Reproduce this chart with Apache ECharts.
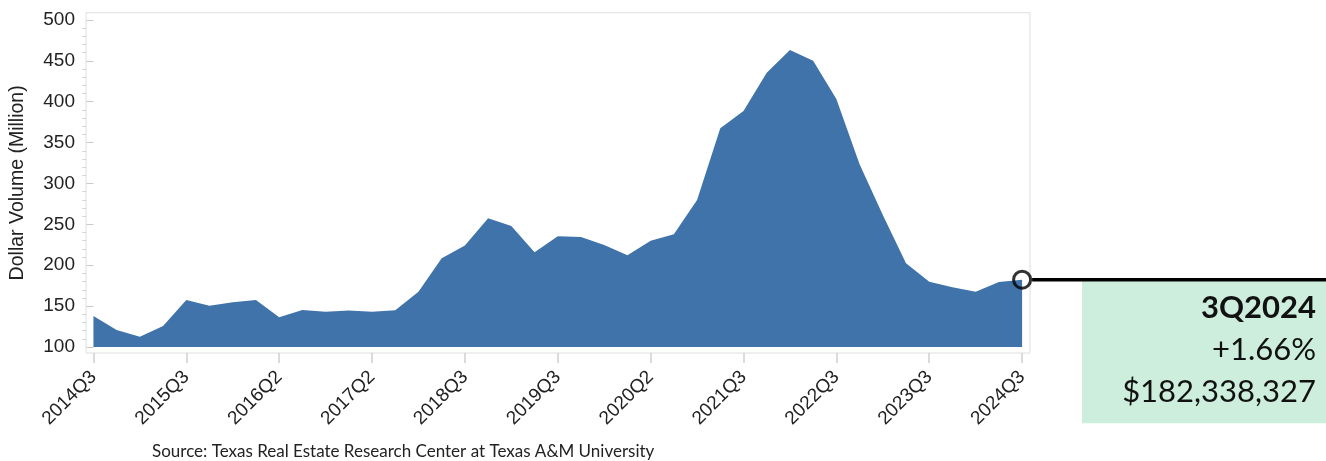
<!DOCTYPE html>
<html>
<head>
<meta charset="utf-8">
<script src="https://cdn.jsdelivr.net/npm/echarts@6/dist/echarts.min.js"></script>
<style>
  html, body { margin: 0; padding: 0; background: #ffffff; }
  #chart { width: 1326px; height: 461px; }
</style>
</head>
<body>
<div id="chart"></div>
<script>
// Quarterly dollar volume (million USD)
const quarters = [
  '2014Q3','2014Q4',
  '2015Q1','2015Q2','2015Q3','2015Q4',
  '2016Q1','2016Q2','2016Q3','2016Q4',
  '2017Q1','2017Q2','2017Q3','2017Q4',
  '2018Q1','2018Q2','2018Q3','2018Q4',
  '2019Q1','2019Q2','2019Q3','2019Q4',
  '2020Q1','2020Q2','2020Q3','2020Q4',
  '2021Q1','2021Q2','2021Q3','2021Q4',
  '2022Q1','2022Q2','2022Q3','2022Q4',
  '2023Q1','2023Q2','2023Q3','2023Q4',
  '2024Q1','2024Q2','2024Q3'
];
const volume = [
  137.9, 120.8,
  112.6, 125.7, 157.5, 150.5,
  154.7, 157.5, 136.5, 145.3,
  143.2, 144.5, 143.2, 144.9,
  167.7, 208.5, 224.0, 257.4,
  248.0, 215.8, 235.4, 234.5,
  224.8, 212.2, 230.0, 237.8,
  279.8, 367.5, 388.7, 435.6,
  463.3, 450.2, 403.4, 323.5,
  261.5, 202.4, 179.9, 173.0,
  167.7, 179.4, 182.34
];
// Labels shown under every fourth quarter
const tickLabels = ['2014Q3','2015Q3','2016Q2','2017Q2','2018Q3','2019Q3','2020Q2','2021Q3','2022Q3','2023Q3','2024Q3'];
const yTicks = [100, 150, 200, 250, 300, 350, 400, 450, 500];
const yMinorTicks = [110,120,130,140,160,170,180,190,210,220,230,240,260,270,280,290,
                     310,320,330,340,360,370,380,390,410,420,430,440,460,470,480,490];
const latestLabel = '3Q2024';
const latestChange = '+1.66%';
const latestAmount = '$182,338,327';
const sourceNote = 'Source: Texas Real Estate Research Center at Texas A&M University';

const AXIS_FONT = '"Liberation Sans", Arial, sans-serif';
const NOTE_FONT = 'Lato, "Open Sans", sans-serif';
const AREA_BLUE = '#4073a9';

const seriesData = volume.map((v, i) => [i, v]);
const lastIdx = volume.length - 1;
const xTicks = tickLabels.map((_, i) => i * 4);

const chart = echarts.init(document.getElementById('chart'), null, { renderer: 'canvas' });

const yBase = {
  type: 'value',
  position: 'left',
  min: 92.66,
  max: 508.9,
  axisLine: { show: false },
  splitLine: { show: false }
};

chart.setOption({
  animation: false,
  grid: {
    left: 84, right: 296, top: 12.7, bottom: 108,
    show: true, borderColor: '#dedede', borderWidth: 1,
    backgroundColor: 'transparent'
  },
  xAxis: {
    type: 'value',
    min: -0.32,
    max: 40.34,
    axisLine: { show: false },
    splitLine: { show: false },
    axisTick: {
      show: true, length: 10, customValues: xTicks,
      lineStyle: { color: '#cfcfcf', width: 1.5 }
    },
    axisLabel: {
      customValues: xTicks,
      rotate: 45,
      margin: 21,
      fontFamily: AXIS_FONT,
      fontSize: 19,
      color: '#222',
      formatter: v => tickLabels[Math.round(v / 4)]
    }
  },
  yAxis: [
    Object.assign({}, yBase, {
      name: 'Dollar Volume (Million)',
      nameLocation: 'middle',
      nameGap: 58,
      nameRotate: 90,
      nameTextStyle: { fontFamily: AXIS_FONT, fontSize: 19.5, color: '#222' },
      axisTick: {
        show: true, length: 7, customValues: yTicks,
        lineStyle: { color: '#c8c8c8', width: 1 }
      },
      axisLabel: {
        customValues: yTicks,
        margin: 11,
        fontFamily: AXIS_FONT,
        fontSize: 19,
        color: '#222'
      }
    }),
    Object.assign({}, yBase, {
      axisTick: {
        show: true, length: 4, customValues: yMinorTicks,
        lineStyle: { color: '#d6d6d6', width: 1 }
      },
      axisLabel: { show: false }
    })
  ],
  series: [
    {
      type: 'line',
      data: seriesData,
      showSymbol: false,
      symbol: 'none',
      lineStyle: { width: 0 },
      areaStyle: { color: AREA_BLUE, opacity: 1, origin: 100 },
      z: 2
    },
    {
      type: 'scatter',
      data: [seriesData[lastIdx]],
      symbol: 'circle',
      symbolSize: 17,
      itemStyle: { color: 'rgba(0,0,0,0)', borderColor: '#000', borderWidth: 3 },
      z: 5
    }
  ]
});

// Callout for the latest quarter, anchored to the last point
const p = chart.convertToPixel({ xAxisIndex: 0, yAxisIndex: 0 }, seriesData[lastIdx]);
const W = chart.getWidth();
const boxLeft = 1082;
const boxTop = p[1] + 1.5;
chart.setOption({
  graphic: [
    {
      type: 'rect',
      shape: { x: boxLeft, y: boxTop, width: W - boxLeft, height: 142 },
      style: { fill: '#cdeedd' },
      z: 1
    },
    {
      type: 'line',
      shape: { x1: p[0] + 10, y1: p[1], x2: W, y2: p[1] },
      style: { stroke: '#000', lineWidth: 3.5 },
      z: 10
    },
    {
      type: 'text', x: W - 10, y: boxTop + 27,
      style: { text: latestLabel, font: 'bold 31px ' + NOTE_FONT, fill: '#111', align: 'right', verticalAlign: 'middle' },
      z: 10
    },
    {
      type: 'text', x: W - 10, y: boxTop + 69,
      style: { text: latestChange, font: '31px ' + NOTE_FONT, fill: '#111', align: 'right', verticalAlign: 'middle' },
      z: 10
    },
    {
      type: 'text', x: W - 10, y: boxTop + 111,
      style: { text: latestAmount, font: '31px ' + NOTE_FONT, fill: '#111', align: 'right', verticalAlign: 'middle' },
      z: 10
    },
    {
      type: 'text', x: 152, y: 452,
      style: { text: sourceNote, font: '17px ' + NOTE_FONT, fill: '#222', align: 'left', verticalAlign: 'middle' },
      z: 10
    }
  ]
});
</script>
</body>
</html>
